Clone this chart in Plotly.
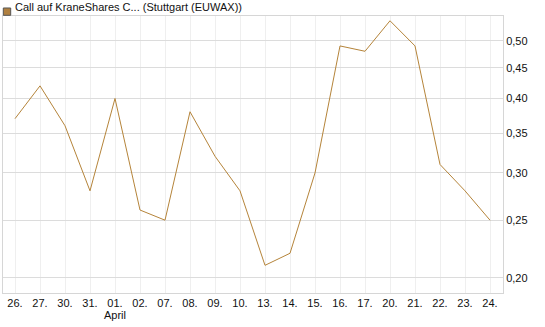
import plotly.graph_objects as go

dates = ["26.", "27.", "30.", "31.", "01.", "02.", "07.", "08.", "09.", "10.",
         "13.", "14.", "15.", "16.", "17.", "20.", "21.", "22.", "23.", "24."]
month_label = "April"
month_index = 4
values = [0.37, 0.42, 0.36, 0.28, 0.40, 0.26, 0.25, 0.38, 0.32, 0.28,
          0.21, 0.22, 0.30, 0.49, 0.48, 0.54, 0.49, 0.31, 0.28, 0.25]
y_ticks = [0.20, 0.25, 0.30, 0.35, 0.40, 0.45, 0.50]
series_name = "Call auf KraneShares C... (Stuttgart (EUWAX))"

LINE = "#b5843a"
FONT = "Liberation Sans, Arial, sans-serif"
TXT = "#111"

x_idx = list(range(len(dates)))

fig = go.Figure()
fig.add_trace(go.Scatter(
    x=x_idx, y=values, mode="lines", name=series_name,
    line=dict(color=LINE, width=1), showlegend=False, hoverinfo="skip"))

fig.update_layout(
    width=545, height=327,
    margin=dict(l=3, r=42, t=16, b=34),
    paper_bgcolor="white", plot_bgcolor="white",
    separators=",.",
    font=dict(family=FONT, size=11, color=TXT),
    xaxis=dict(
        range=[-0.48, 19.52], tickmode="array", tickvals=x_idx, ticktext=dates,
        showgrid=True, gridcolor="#efefef", gridwidth=1,
        showline=True, linecolor="#d6d6d6", mirror=True, linewidth=1,
        ticks="", zeroline=False, tickfont=dict(size=11, color=TXT),
    ),
    yaxis=dict(
        type="log", side="right",
        range=[-0.7242, -0.2596],
        tickmode="array", tickvals=y_ticks, tickformat=".2f",
        showgrid=True, gridcolor="#dcdcdc", gridwidth=1,
        showline=True, linecolor="#d6d6d6", mirror=True, linewidth=1,
        ticks="", zeroline=False, tickfont=dict(size=11, color=TXT),
    ),
    shapes=[dict(type="rect", xref="paper", yref="paper",
                 x0=0.0006, x1=0.0154, y0=1.0025, y1=1.0289,
                 fillcolor="#b08040", line=dict(color="#555", width=1))],
    annotations=[
        dict(text=series_name, xref="paper", yref="paper",
             x=0.02, y=1.0325, xanchor="left", yanchor="middle",
             showarrow=False, font=dict(size=11, color=TXT, family=FONT)),
        dict(text=month_label, xref="x", yref="paper",
             x=month_index, y=-0.0794, xanchor="center", yanchor="middle",
             showarrow=False, font=dict(size=11, color=TXT, family=FONT)),
    ],
)

fig.write_html("out.html")
